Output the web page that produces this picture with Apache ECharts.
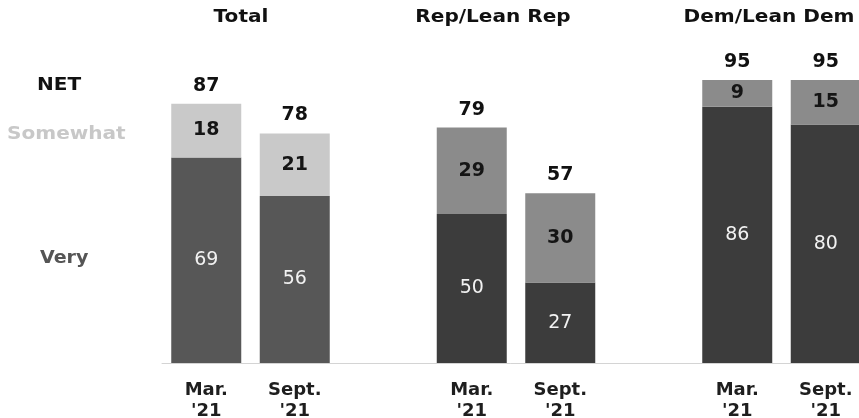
<!DOCTYPE html>
<html>
<head>
<meta charset="utf-8">
<script src="https://cdn.jsdelivr.net/npm/echarts@6/dist/echarts.min.js"></script>
<style>
  html, body { margin: 0; padding: 0; background: #fff; }
  #chart { width: 859px; height: 418px; }
</style>
</head>
<body>
<div id="chart"></div>
<script>
// Share saying they are very / somewhat (NET) by party, March vs. September 2021
const groups = ['Total', 'Rep/Lean Rep', 'Dem/Lean Dem'];
const periods = ["Mar.\n'21", "Sept.\n'21"];
const veryValues = [69, 56, 50, 27, 86, 80];
const somewhatValues = [18, 21, 29, 30, 9, 15];
const netValues = [87, 78, 79, 57, 95, 95];
const rowLabels = ['NET', 'Somewhat', 'Very'];

// Colours per group: [very, somewhat]
const groupColors = [
  ['#575757', '#c9c9c9'],
  ['#3c3c3c', '#8b8b8b'],
  ['#3c3c3c', '#8b8b8b']
];

// Lay the bars out on a category axis with an empty slot between groups
const slots = [];      // axis label per slot
const slotIndex = [];  // slot position of each bar
groups.forEach((g, gi) => {
  periods.forEach((p, pi) => {
    slotIndex.push(slots.length);
    slots.push(p);
  });
  if (gi < groups.length - 1) slots.push('');
});
const slotKeys = slots.map((s, i) => 'c' + i);

function barData(values, colorIdx, labelColor, labelWeight) {
  const arr = slots.map(() => '-');
  values.forEach((v, i) => {
    const g = Math.floor(i / periods.length);
    arr[slotIndex[i]] = {
      value: v,
      itemStyle: { color: groupColors[g][colorIdx] },
      label: { color: labelColor, fontWeight: labelWeight }
    };
  });
  return arr;
}

// NET label sits above the top of each stack
const netData = netValues.map((n, i) => [slotIndex[i], veryValues[i] + somewhatValues[i], n]);

const font = 'DejaVu Sans';
const chart = echarts.init(document.getElementById('chart'));

const groupTitlePos = [241, 493, 769];

chart.setOption({
  animation: false,
  grid: { left: 162, top: 65, width: 708, height: 298, containLabel: false, outerBoundsMode: 'none' },
  xAxis: {
    type: 'category',
    data: slotKeys,
    axisLine: { show: true, lineStyle: { color: '#d4d4d4', width: 1 } },
    axisTick: { show: false },
    axisLabel: {
      interval: 0,
      margin: 17,
      fontFamily: font,
      fontSize: 18,
      fontWeight: 'bold',
      lineHeight: 21,
      color: '#1e1e1e',
      formatter: (v, i) => slots[i]
    }
  },
  yAxis: { type: 'value', min: 0, max: 100, show: false, splitLine: { show: false } },
  series: [
    {
      name: 'Very',
      type: 'bar',
      stack: 'share',
      barWidth: 70,
      data: barData(veryValues, 0, '#f2f2f2', 'normal'),
      label: { show: true, position: 'inside', fontFamily: font, fontSize: 19 },
      silent: true
    },
    {
      name: 'Somewhat',
      type: 'bar',
      stack: 'share',
      barWidth: 70,
      data: barData(somewhatValues, 1, '#151515', 'bold'),
      label: { show: true, position: 'inside', fontFamily: font, fontSize: 19 },
      silent: true
    },
    {
      name: 'NET',
      type: 'scatter',
      data: netData,
      symbolSize: 1,
      itemStyle: { color: 'rgba(0,0,0,0)', opacity: 1 },
      silent: true,
      label: {
        show: true,
        position: 'top',
        distance: 8,
        fontFamily: font,
        fontSize: 19,
        fontWeight: 'bold',
        color: '#111',
        formatter: p => String(p.data[2])
      }
    }
  ],
  graphic: [
    ...groups.map((g, i) => ({
      type: 'text',
      x: groupTitlePos[i],
      y: 18,
      scaleX: 1.18,
      style: {
        text: g, fontFamily: font, fontSize: 17, fontWeight: 'bold',
        fill: '#111', align: 'center', verticalAlign: 'middle'
      }
    })),
    {
      type: 'text', x: 37, y: 86, scaleX: 1.18,
      style: { text: rowLabels[0], fontFamily: font, fontSize: 17, fontWeight: 'bold', fill: '#111', verticalAlign: 'middle' }
    },
    {
      type: 'text', x: 7, y: 135, scaleX: 1.18,
      style: { text: rowLabels[1], fontFamily: font, fontSize: 17, fontWeight: 'bold', fill: '#c8c8c8', verticalAlign: 'middle' }
    },
    {
      type: 'text', x: 40, y: 259, scaleX: 1.12,
      style: { text: rowLabels[2], fontFamily: font, fontSize: 17, fontWeight: 'bold', fill: '#555', verticalAlign: 'middle' }
    }
  ]
});
</script>
</body>
</html>
